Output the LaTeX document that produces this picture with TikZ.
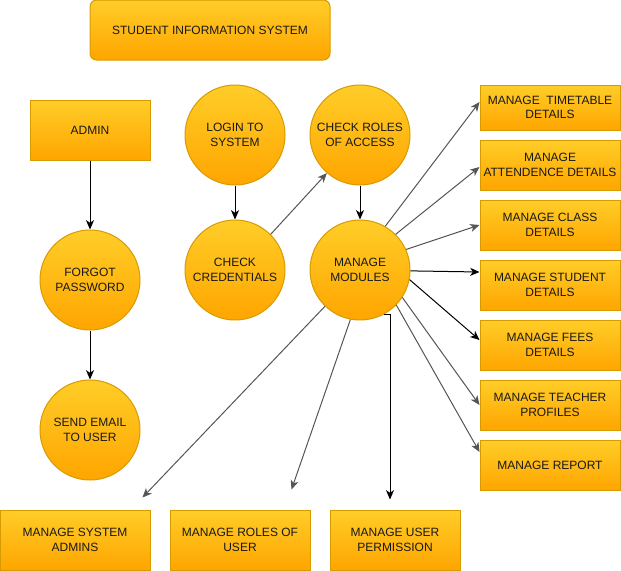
\documentclass[tikz,border=0pt]{standalone}
\usepackage{fontspec}
\setmainfont{Liberation Sans}
\usetikzlibrary{arrows.meta,calc}
\definecolor{ftop}{HTML}{FFCD28}
\definecolor{fbot}{HTML}{FFA500}
\definecolor{fline}{HTML}{D79B00}
\definecolor{gline}{HTML}{555555}
\begin{document}
\begin{tikzpicture}[x=0.75pt,y=-0.75pt,
  box/.style={draw=fline,line width=0.75pt,top color=ftop,bottom color=fbot,
    inner sep=0pt,align=center,font=\fontsize{9}{10.8}\selectfont,text=black!90},
  rect/.style={box,rectangle},
  circ/.style={box,circle,minimum size=75pt},
  arr/.style={line width=0.75pt,-{Stealth[length=7pt,width=6pt,inset=2pt]}},
  garr/.style={arr,draw=gline}]
\useasboundingbox (0,0) rectangle (621,571);
% title
\node[rect,rounded corners=5pt,minimum width=180pt,minimum height=45pt] (title) at (210,30) {STUDENT INFORMATION SYSTEM};
% left column
\node[rect,minimum width=90pt,minimum height=45pt] (admin) at (90,130) {ADMIN};
\node[circ] (forgot) at (90,280) {FORGOT\\PASSWORD};
\node[circ] (email) at (90,430) {SEND EMAIL\\TO USER};
% middle circles
\node[circ] (login) at (235,135) {LOGIN TO\\SYSTEM};
\node[circ] (cred) at (235,270) {CHECK\\CREDENTIALS};
\node[circ] (roles) at (360,135) {CHECK ROLES\\OF ACCESS};
\node[circ] (mm) at (360,270) {MANAGE\\MODULES};
% right column
\node[rect,minimum width=105pt,minimum height=33.75pt] (tt) at (550,107.5) {MANAGE~~TIMETABLE\\DETAILS};
\node[rect,minimum width=105pt,minimum height=37.5pt] (att) at (550,165) {MANAGE\\ATTENDENCE DETAILS};
\node[rect,minimum width=105pt,minimum height=37.5pt] (cls) at (550,225) {MANAGE CLASS\\DETAILS};
\node[rect,minimum width=105pt,minimum height=37.5pt] (stu) at (550,285) {MANAGE STUDENT\\DETAILS};
\node[rect,minimum width=105pt,minimum height=37.5pt] (fees) at (550,345) {MANAGE FEES\\DETAILS};
\node[rect,minimum width=105pt,minimum height=37.5pt] (tea) at (550,405) {MANAGE TEACHER\\PROFILES};
\node[rect,minimum width=105pt,minimum height=37.5pt] (rep) at (550,465) {MANAGE REPORT};
% bottom row
\node[rect,minimum width=112.5pt,minimum height=45pt] (sa) at (75,540) {MANAGE SYSTEM\\ADMINS};
\node[rect,minimum width=105pt,minimum height=45pt] (ru) at (240,540) {MANAGE ROLES OF\\USER};
\node[rect,minimum width=97.5pt,minimum height=45pt] (up) at (395,540) {MANAGE USER\\PERMISSION};
% connectors
\draw[arr] (admin) -- (forgot);
\draw[arr] (forgot) -- (email);
\draw[arr] (login) -- (cred);
\draw[garr] (cred.45) -- (roles.-131);
\draw[arr] (roles) -- (mm);
\draw[garr] (mm.60) -- ($(tt.west)+(0,-5.5)$);
\draw[garr] (mm.45) -- ($(att.west)+(0,2)$);
\draw[garr] (mm.24) -- (cls.west);
\draw[arr] (mm.-1) -- ($(stu.west)+(0,-13)$);
\draw[arr] (mm.-11) -- ($(fees.west)+(0,-5)$);
\draw[garr] (mm.-33) -- (tea.west);
\draw[garr] (mm.-44) -- ($(rep.west)+(0,-13)$);
\draw[garr] (mm.-134) -- ($(sa.north east)+(-8,-12)$);
\draw[garr] (mm.-101) -- ($(ru.north east)+(-19,-20)$);
\draw[arr] (mm.-61) -| ($(up.north)+(-5,-10)$);
\end{tikzpicture}
\end{document}
